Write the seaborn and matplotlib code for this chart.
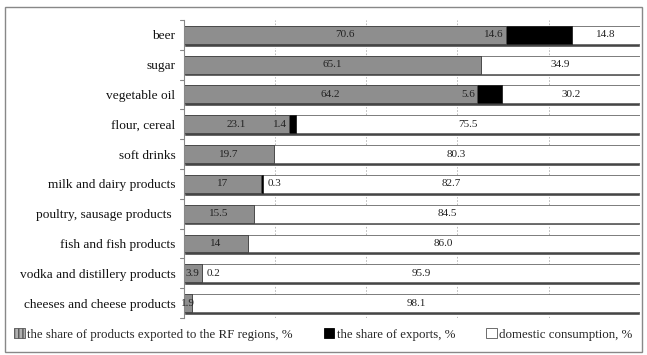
import matplotlib
matplotlib.use("Agg")
import matplotlib.pyplot as plt
import matplotlib.patches as mpatches
import seaborn as sns
import numpy as np
import pandas as pd

categories = ["beer", "sugar", "vegetable oil", "flour, cereal", "soft drinks",
              "milk and dairy products", "poultry, sausage products ",
              "fish and fish products", "vodka and distillery products",
              "cheeses and cheese products"]
regions = [70.6, 65.1, 64.2, 23.1, 19.7, 17.0, 15.5, 14.0, 3.9, 1.9]
exports = [14.6, 0.0, 5.6, 1.4, 0.0, 0.3, 0.0, 0.0, 0.2, 0.0]
domestic = [14.8, 34.9, 30.2, 75.5, 80.3, 82.7, 84.5, 86.0, 95.9, 98.1]
region_labels = ["70.6", "65.1", "64.2", "23.1", "19.7", "17", "15.5", "14", "3.9", "1.9"]
export_labels = ["14.6", "", "5.6", "1.4", "", "0.3", "", "", "0.2", ""]
domestic_labels = ["14.8", "34.9", "30.2", "75.5", "80.3", "82.7", "84.5", "86.0", "95.9", "98.1"]
legend_labels = ["the share of products exported to the RF regions, %",
                 "the share of exports, %", "domestic consumption, %"]

sns.set_style("white")
plt.rcParams["font.family"] = ["Liberation Serif", "DejaVu Serif"]

df = pd.DataFrame({"category": categories, "regions": regions,
                   "exports": exports, "domestic": domestic})
df["cum2"] = df["regions"] + df["exports"]
df["cum3"] = df["cum2"] + df["domestic"]

fig = plt.figure(figsize=(6.47, 3.55), dpi=100)
ax = fig.add_axes([0.284, 0.104, 0.705, 0.840])

# soft shadow under every bar
ypos = np.arange(len(categories))
ax.barh(ypos + 0.33, df["cum3"], height=0.13, color="#454545", zorder=1.5)

sns.barplot(data=df, x="cum3", y="category", orient="h", color="white",
            edgecolor="#666666", linewidth=0.6, width=0.6, ax=ax, zorder=2)
sns.barplot(data=df, x="cum2", y="category", orient="h", color="black",
            edgecolor="#222222", linewidth=0.6, width=0.6, ax=ax, zorder=2)
sns.barplot(data=df, x="regions", y="category", orient="h", color="#8e8e8e",
            saturation=1, edgecolor="#4a4a4a", linewidth=0.6, width=0.6, ax=ax, zorder=2)

fs = 8
for i in range(len(categories)):
    ax.text(regions[i] / 2, i, region_labels[i], ha="center", va="center",
            fontsize=fs, color="#222222", zorder=4)
    if export_labels[i]:
        if exports[i] >= 1:
            ax.text(regions[i] - 0.4, i, export_labels[i], ha="right", va="center",
                    fontsize=fs, color="#222222", zorder=4)
        else:
            ax.text(regions[i] + exports[i] + 1.0, i, export_labels[i], ha="left",
                    va="center", fontsize=fs, color="#222222", zorder=4)
    ax.text(df["cum2"][i] + domestic[i] / 2, i, domestic_labels[i], ha="center",
            va="center", fontsize=fs, color="#222222", zorder=4)

ax.set_xlim(0, 100)
ax.set_ylim(len(categories) - 0.5, -0.5)
ax.set_xlabel("")
ax.set_ylabel("")
ax.set_xticks([20, 40, 60, 80, 100])
ax.set_xticklabels([])
ax.xaxis.grid(True, color="#b0b0b0", linestyle=(0, (2, 2)), linewidth=0.6)
ax.set_axisbelow(True)
ax.tick_params(axis="y", length=0, labelsize=9.6, pad=6, colors="#111111")
ax.tick_params(axis="x", length=0)
for side in ["top", "right", "bottom"]:
    ax.spines[side].set_visible(False)
ax.spines["left"].set_color("#888888")
ax.spines["left"].set_linewidth(0.8)
for b in np.arange(-0.5, len(categories), 1.0):
    ax.plot([-0.8, 0], [b, b], color="#888888", lw=0.8, clip_on=False, zorder=3)

handles = [mpatches.Patch(facecolor="#b0b0b0", edgecolor="#555555", hatch="||||", lw=0.6),
           mpatches.Patch(facecolor="black", edgecolor="black", lw=0.6),
           mpatches.Patch(facecolor="white", edgecolor="#555555", lw=0.6)]
fig.legend(handles, legend_labels, loc="center", bbox_to_anchor=(0.5, 0.058),
           ncol=3, frameon=False, fontsize=9.3, handlelength=0.8, handleheight=0.8,
           handletextpad=0.2, columnspacing=2.4)

fig.patches.append(mpatches.Rectangle((0.008, 0.008), 0.985, 0.972,
                                      transform=fig.transFigure, fill=False,
                                      edgecolor="#888888", lw=1.0))

fig.savefig("out.png", dpi=100)
